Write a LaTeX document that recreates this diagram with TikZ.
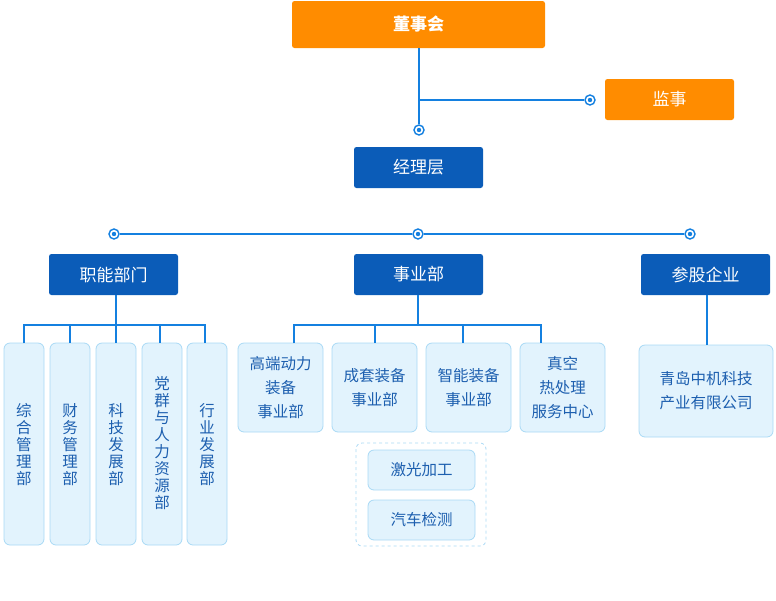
\documentclass[tikz,border=0pt]{standalone}
\usepackage{fontspec}
\setmainfont{Noto Sans CJK SC}
\usetikzlibrary{positioning}
\definecolor{org}{HTML}{FF8C00}
\definecolor{dblue}{HTML}{0B5CB8}
\definecolor{lblue}{HTML}{1480E0}
\definecolor{boxfill}{HTML}{E2F3FD}
\definecolor{boxline}{HTML}{A9D9F5}
\definecolor{txtblue}{HTML}{1D5FAF}
\begin{document}
\begin{tikzpicture}[x=1pt,y=-1pt,
  hdr/.style={rounded corners=2.5pt},
  orgbox/.style={hdr, fill=org},
  bluebox/.style={hdr, fill=dblue},
  hdrtxt/.style={text=white, font=\fontsize{17}{19}\selectfont},
  subbox/.style={draw=boxline, fill=boxfill, rounded corners=6pt, line width=0.8pt},
  subtxt/.style={text=txtblue, font=\fontsize{15.5}{24}\selectfont, align=center},
  vtxt/.style={text=txtblue, font=\fontsize{15.5}{17}\selectfont, align=center},
  conn/.style={draw=lblue, line width=1.6pt}]
\tikzset{dotmark/.style={circle, draw=lblue, fill=white, line width=1.4pt, minimum size=10pt, inner sep=0pt, path picture={\fill[lblue] (path picture bounding box.center) circle (2.2pt);}}}
\useasboundingbox (0,0) rectangle (776,600);

% top
\path[orgbox] (292,1) rectangle (545,48);
\node[hdrtxt, font=\fontsize{17}{19}\selectfont\bfseries] (board) at (418.5,24) {董事会};
\path[orgbox] (605,79) rectangle (734,120);
\node[hdrtxt] (sup) at (669.5,99.5) {监事};
\path[bluebox] (354,147) rectangle (483,188);
\node[hdrtxt] (mgr) at (418.5,167.5) {经理层};

\coordinate (bb) at (419,48);
\coordinate (jn) at (419,100);
\node[dotmark] (m1) at (419,130) {};
\node[dotmark] (m2) at (590,100) {};
\draw[conn] (bb) -- (m1.north);
\draw[conn] (jn) -- (m2.west);

% level 2 line
\node[dotmark] (ma) at (114,234) {};
\node[dotmark] (mb) at (418,234) {};
\node[dotmark] (mc) at (690,234) {};
\draw[conn] (ma.east) -- (mb.west);
\draw[conn] (mb.east) -- (mc.west);

% level 2 boxes
\path[bluebox] (49,254) rectangle (178,295);
\node[hdrtxt] (fn) at (113.5,274.5) {职能部门};
\path[bluebox] (354,254) rectangle (483,295);
\node[hdrtxt] (bu) at (418.5,274.5) {事业部};
\path[bluebox] (641,254) rectangle (770,295);
\node[hdrtxt] (eq) at (705.5,274.5) {参股企业};

% functional departments
\foreach \xa/\xb in {4/44, 50/90, 96/136, 142/182, 187/227}{
  \path[subbox] (\xa,343) rectangle (\xb,545);
}
\node[vtxt] (f1) at (24,445) {综\\合\\管\\理\\部};
\node[vtxt] (f2) at (70,445) {财\\务\\管\\理\\部};
\node[vtxt] (f3) at (116,445) {科\\技\\发\\展\\部};
\node[vtxt] (f4) at (162,443) {党\\群\\与\\人\\力\\资\\源\\部};
\node[vtxt] (f5) at (207,445) {行\\业\\发\\展\\部};
\coordinate (fb) at (116,295);
\coordinate (fj) at (116,325);
\draw[conn] (fb) -- (fj);
\draw[conn] (24,343) -- (24,325) -- (205,325) -- (205,343);
\foreach \x in {70,116,160}{\draw[conn] (\x,325) -- (\x,343);}

% business units
\foreach \xa/\xb in {238/323, 332/417, 426/511, 520/605}{
  \path[subbox] (\xa,343) rectangle (\xb,432);
}
\node[subtxt] (b1) at (280.5,387.5) {高端动力\\装备\\事业部};
\node[subtxt] (b2) at (374.5,387.5) {成套装备\\事业部};
\node[subtxt] (b3) at (468.5,387.5) {智能装备\\事业部};
\node[subtxt] (b4) at (562.5,387.5) {真空\\热处理\\服务中心};
\draw[conn] (418,295) -- (418,325);
\draw[conn] (294,343) -- (294,325) -- (541,325) -- (541,343);
\foreach \x in {375,463}{\draw[conn] (\x,325) -- (\x,343);}

\draw[boxline, dashed, rounded corners=6pt, line width=0.8pt] (356,443) rectangle (486,546);
\path[subbox] (368,450) rectangle (475,490);
\path[subbox] (368,500) rectangle (475,540);
\node[subtxt] (l1) at (421.5,470) {激光加工};
\node[subtxt] (l2) at (421.5,520) {汽车检测};

% equity
\path[subbox] (639,345) rectangle (773,437);
\node[subtxt] (e1) at (706,391) {青岛中机科技\\产业有限公司};
\draw[conn] (707,295) -- (707,345);
\end{tikzpicture}
\end{document}
